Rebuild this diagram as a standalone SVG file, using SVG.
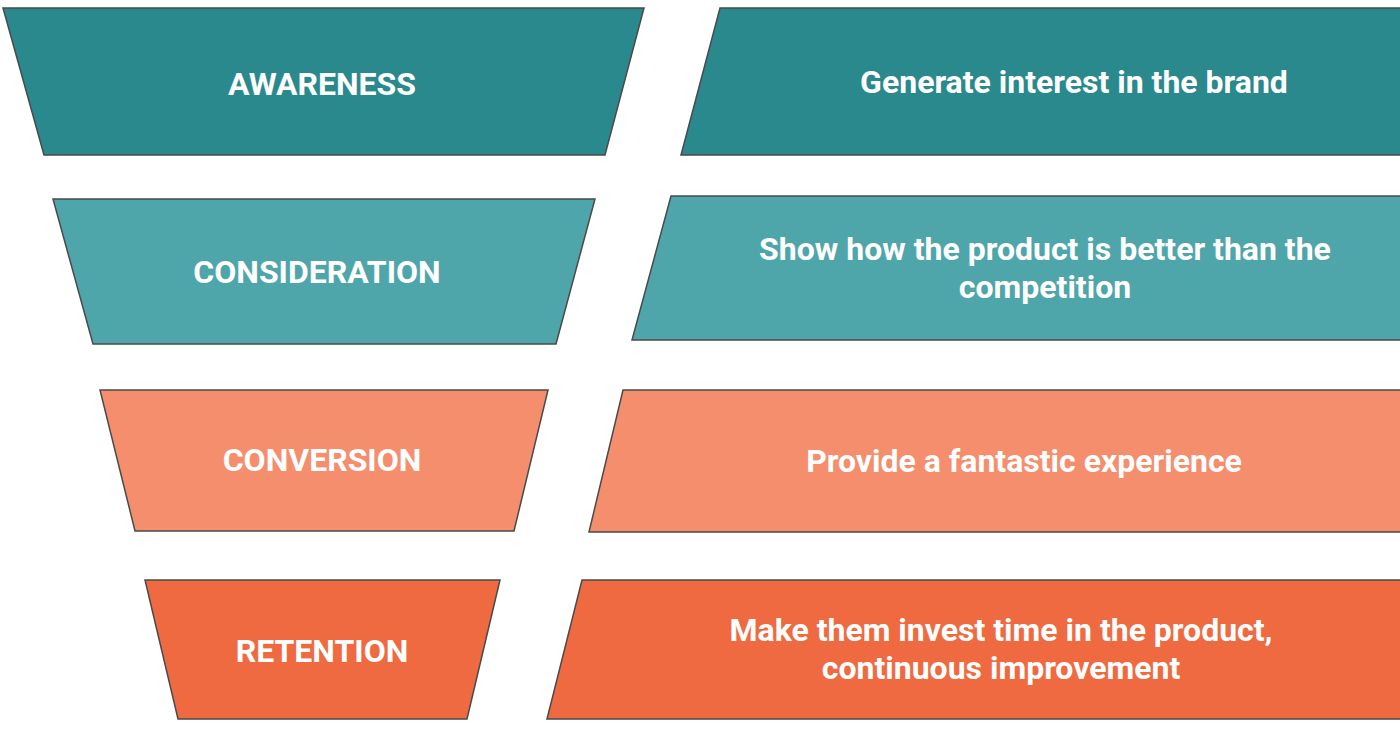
<svg xmlns="http://www.w3.org/2000/svg" width="1400" height="735" viewBox="0 0 1400 735">
<style>
.s{stroke:#4a4a4a;stroke-width:1.5;stroke-linejoin:miter}
.a{fill:#2A898D}.c{fill:#4FA6AA}.v{fill:#F48E6D}.r{fill:#EF6A40}
text{font-family:Roboto,"Liberation Sans",sans-serif;font-weight:bold;fill:#ffffff;font-size:32px;text-anchor:middle}
</style>
<rect width="1400" height="735" fill="#ffffff"/>
<g id="awareness">
<polygon class="s a" points="3,8 644,8 605,155 44,155"/>
<text x="322" y="95">AWARENESS</text>
</g>
<g id="awareness-desc">
<polygon class="s a" points="720,8 1402,8 1402,155 681,155"/>
<text x="1074" y="93">Generate interest in the brand</text>
</g>
<g id="consideration">
<polygon class="s c" points="53,199 595,199 556,344 93,344"/>
<text x="317" y="283">CONSIDERATION</text>
</g>
<g id="consideration-desc">
<polygon class="s c" points="671,196 1402,196 1402,340 632,340"/>
<text x="1045" y="260">Show how the product is better than the</text>
<text x="1045" y="298">competition</text>
</g>
<g id="conversion">
<polygon class="s v" points="100,390 548,390 514,531 135,531"/>
<text x="322" y="471">CONVERSION</text>
</g>
<g id="conversion-desc">
<polygon class="s v" points="623,390 1402,390 1402,532 589,532"/>
<text x="1024" y="472">Provide a fantastic experience</text>
</g>
<g id="retention">
<polygon class="s r" points="145,580 500,580 467,719 178,719"/>
<text x="322" y="662">RETENTION</text>
</g>
<g id="retention-desc">
<polygon class="s r" points="582,580 1402,580 1402,719 547,719"/>
<text x="1001" y="641">Make them invest time in the product,</text>
<text x="1001" y="679">continuous improvement</text>
</g>
<g id="connectors"></g>
</svg>
